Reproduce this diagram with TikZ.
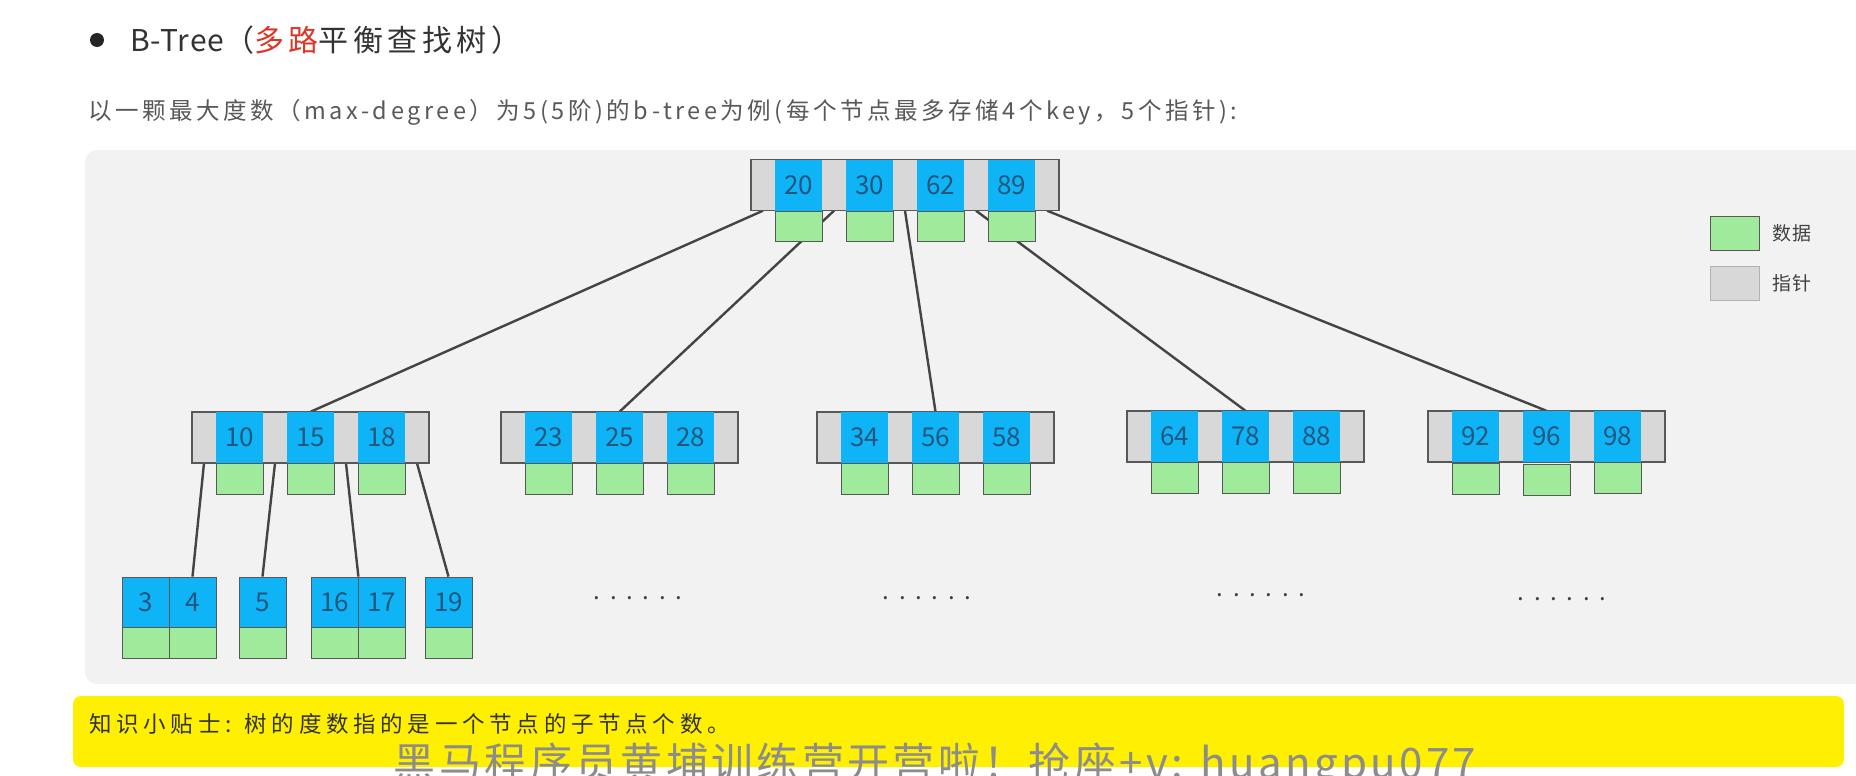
\documentclass[tikz,border=0pt]{standalone}
\usepackage{fontspec}
\setmainfont{Noto Sans CJK SC}
\pgfdeclarelayer{back}
\pgfsetlayers{back,main}
\definecolor{panelgray}{RGB}{242,242,242}
\definecolor{ptrgray}{RGB}{216,216,216}
\definecolor{keyblue}{RGB}{14,180,246}
\definecolor{keytext}{RGB}{36,86,126}
\definecolor{datgreen}{RGB}{160,234,156}
\definecolor{edgegray}{RGB}{88,88,88}
\definecolor{linkgray}{RGB}{68,68,68}
\definecolor{tipyellow}{RGB}{255,239,0}
\definecolor{titlered}{RGB}{222,52,36}
\definecolor{markgray}{RGB}{140,140,140}

\begin{document}
\begin{tikzpicture}[x=1pt,y=-1pt,
		bar/.style={draw=edgegray,fill=ptrgray,line width=1.1pt,inner sep=0pt,minimum height=51pt},
		ptr/.style={inner sep=0pt,minimum width=24pt,minimum height=51pt},
		key/.style={fill=keyblue,inner sep=0pt,minimum width=47pt,minimum height=51pt,text=keytext,font=\fontsize{26}{28}\selectfont},
		leaf/.style={key,draw=edgegray,line width=0.8pt,minimum height=50pt},
		dat/.style={draw=edgegray,fill=datgreen,line width=0.8pt,inner sep=0pt,minimum width=47pt,minimum height=31pt},
		link/.style={draw=linkgray,line width=2.4pt},
		dots/.style={inner sep=0pt,text=black!75,font=\fontsize{24}{26}\selectfont\addfontfeature{LetterSpace=40}}]
	\useasboundingbox (0,0) rectangle (1856,776);
	\begin{pgfonlayer}{back}
		\fill[white] (0,0) rectangle (1856,776);
		\fill[panelgray,rounded corners=12pt] (85,150) rectangle (1880,684);
		\fill[tipyellow,rounded corners=8pt] (73,696) rectangle (1844,767);
	\end{pgfonlayer}
	\fill[black!85] (97,40) circle (7);
	\node[anchor=west,inner sep=0pt,text=black!80,font=\fontsize{30}{34}\selectfont\addfontfeature{LetterSpace=3}] (title) at (130,40) {B-Tree{\addfontfeature{LetterSpace=15}（\textcolor{titlered}{多路}平衡查找树）}};
	\node[anchor=west,inner sep=0pt,text=black!65,font=\fontsize{23.5}{27}\selectfont\addfontfeature{LetterSpace=15}] (subtitle) at (88,112) {以一颗最大度数（max-degree）为5(5阶)的b-tree为例(每个节点最多存储4个key，5个指针):};
	\node[bar,minimum width=308pt] (root) at (905,185) {};
	\node[ptr] (r0) at (763,185) {};
	\node[ptr] (r1) at (834,185) {};
	\node[ptr] (r2) at (905,185) {};
	\node[ptr] (r3) at (976,185) {};
	\node[ptr] (r4) at (1047,185) {};
	\node[key] (k20) at (798.5,185) {20};
	\node[key] (k30) at (869.5,185) {30};
	\node[key] (k62) at (940.5,185) {62};
	\node[key] (k89) at (1011.5,185) {89};
	\node[dat,minimum height=30pt] (d20) at (798.5,226) {};
	\node[dat,minimum height=30pt] (d30) at (869.5,226) {};
	\node[dat,minimum height=30pt] (d62) at (940.5,226) {};
	\node[dat,minimum height=30pt] (d89) at (1011.5,226) {};
	\node[bar,minimum width=237pt] (nodeA) at (310.5,437.5) {};
	\node[ptr] (a0) at (204,437.5) {};
	\node[ptr] (a1) at (275,437.5) {};
	\node[ptr] (a2) at (346,437.5) {};
	\node[ptr] (a3) at (417,437.5) {};
	\node[key] (k10) at (239.5,437.5) {10};
	\node[key] (k15) at (310.5,437.5) {15};
	\node[key] (k18) at (381.5,437.5) {18};
	\node[dat] (d10) at (239.5,478.5) {};
	\node[dat] (d15) at (310.5,478.5) {};
	\node[dat] (d18) at (381.5,478.5) {};
	\node[bar,minimum width=237pt] (nodeB) at (619.5,437.5) {};
	\node[key] (k23) at (548.5,437.5) {23};
	\node[key] (k25) at (619.5,437.5) {25};
	\node[key] (k28) at (690.5,437.5) {28};
	\node[dat] (d23) at (548.5,478.5) {};
	\node[dat] (d25) at (619.5,478.5) {};
	\node[dat] (d28) at (690.5,478.5) {};
	\node[bar,minimum width=237pt] (nodeC) at (935.5,437.5) {};
	\node[key] (k34) at (864.5,437.5) {34};
	\node[key] (k56) at (935.5,437.5) {56};
	\node[key] (k58) at (1006.5,437.5) {58};
	\node[dat] (d34) at (864.5,478.5) {};
	\node[dat] (d56) at (935.5,478.5) {};
	\node[dat] (d58) at (1006.5,478.5) {};
	\node[bar,minimum width=237pt] (nodeD) at (1245.5,436.5) {};
	\node[key] (k64) at (1174.5,436.5) {64};
	\node[key] (k78) at (1245.5,436.5) {78};
	\node[key] (k88) at (1316.5,436.5) {88};
	\node[dat] (d64) at (1174.5,477.5) {};
	\node[dat] (d78) at (1245.5,477.5) {};
	\node[dat] (d88) at (1316.5,477.5) {};
	\node[bar,minimum width=237pt] (nodeE) at (1546.5,436.5) {};
	\node[key] (k92) at (1475.5,436.5) {92};
	\node[key] (k96) at (1546.5,436.5) {96};
	\node[key] (k98) at (1617.5,436.5) {98};
	\node[dat] (d92) at (1475.5,478.5) {};
	\node[dat] (d96) at (1546.5,479.5) {};
	\node[dat] (d98) at (1617.5,477.5) {};
	\node[leaf] (k3) at (145.5,602) {3};
	\node[leaf] (k4) at (192.5,602) {4};
	\node[dat] (d3) at (145.5,642.5) {};
	\node[dat] (d4) at (192.5,642.5) {};
	\node[leaf] (k5) at (262.5,602) {5};
	\node[dat] (d5) at (262.5,642.5) {};
	\node[leaf] (k16) at (334.5,602) {16};
	\node[leaf] (k17) at (381.5,602) {17};
	\node[dat] (d16) at (334.5,642.5) {};
	\node[dat] (d17) at (381.5,642.5) {};
	\node[leaf] (k19) at (448.5,602) {19};
	\node[dat] (d19) at (448.5,642.5) {};
	\node[dots] (dotsB) at (638,598) {......};
	\node[dots] (dotsC) at (927,598) {......};
	\node[dots] (dotsD) at (1261,595) {......};
	\node[dots] (dotsE) at (1562,599) {......};
	\node[dat,minimum width=49pt,minimum height=34pt] (lgdat) at (1734.5,233) {};
	\node[draw=black!30,fill=ptrgray,line width=1pt,inner sep=0pt,minimum width=49pt,minimum height=34pt] (lgptr) at (1734.5,283) {};
	\node[anchor=west,inner sep=0pt,text=black!75,font=\fontsize{19}{22}\selectfont\addfontfeature{LetterSpace=8}] (lgdattext) at (1772,233) {数据};
	\node[anchor=west,inner sep=0pt,text=black!75,font=\fontsize{19}{22}\selectfont\addfontfeature{LetterSpace=8}] (lgptrtext) at (1772,283) {指针};
	\node[anchor=west,inner sep=0pt,text=black!80,font=\fontsize{22.5}{26}\selectfont\addfontfeature{LetterSpace=21}] (tip) at (89,724) {知识小贴士: 树的度数指的是一个节点的子节点个数。};
	\node[inner sep=0pt,text=markgray,font=\fontsize{42}{46}\selectfont\addfontfeature{LetterSpace=8}] (mark) at (935,766) {黑马程序员黄埔训练营开营啦！抢座+v: huangpu077};
	\begin{pgfonlayer}{back}
		\draw[link] (r0.south) -- (k15.north);
		\draw[link] (r1.south) -- (k25.north);
		\draw[link] (r2.south) -- (k56.north);
		\draw[link] (r3.south) -- (k78.north);
		\draw[link] (r4.south) -- (k96.north);
		\draw[link] (a0.south) -- (k4.north);
		\draw[link] (a1.south) -- (k5.north);
		\draw[link] (a2.south) -- (k16.north east);
		\draw[link] (a3.south) -- (k19.north);
	\end{pgfonlayer}
\end{tikzpicture}
\end{document}
